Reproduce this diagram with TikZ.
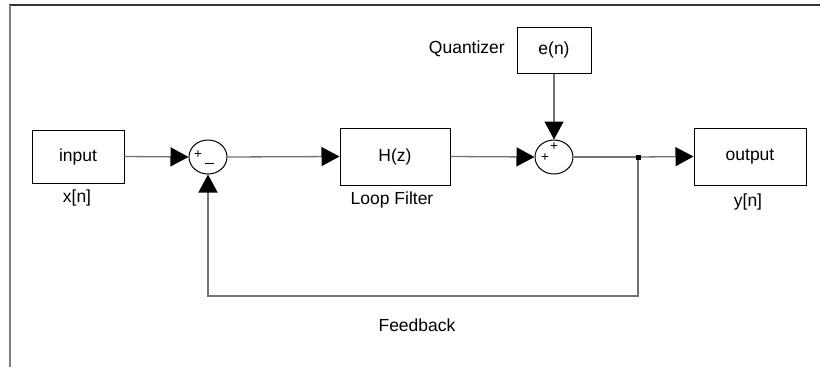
\documentclass[tikz,border=0pt]{standalone}
\usepackage{fontspec}
\setmainfont{Liberation Sans}
\usetikzlibrary{arrows.meta,shapes.geometric}
\begin{document}
\begin{tikzpicture}[x=1pt,y=-1pt,
  every node/.style={font=\fontsize{17.5}{20}\selectfont},
  blockbox/.style={draw=black,line width=1pt,inner sep=0pt},
  sumnode/.style={draw=black,line width=1pt,ellipse,minimum width=38pt,minimum height=34pt,inner sep=0pt},
  conn/.style={draw=black!55,line width=1.3pt,-{Triangle[length=18pt,width=19pt,color=black]}},
  plainline/.style={draw=black!55,line width=1.3pt},
  jdot/.style={fill=black,inner sep=0pt,minimum size=5pt,rectangle},
  lbl/.style={inner sep=0pt},
  sgn/.style={inner sep=0pt,font=\fontsize{13.5}{15}\selectfont}]
\useasboundingbox (0,0) rectangle (820,367);
\fill[white] (0,0) rectangle (820,367);
% frame (top and left edges)
\draw[black!80,line width=2pt] (9,5) -- (820,5);
\draw[black!50,line width=2pt] (10,5) -- (10,367);
% blocks
\node[blockbox,minimum width=92pt,minimum height=53pt] (input) at (78,156.5) {input};
\node[blockbox,minimum width=110pt,minimum height=57pt] (hz) at (395,156.5) {H(z)};
\node[blockbox,minimum width=112pt,minimum height=57pt] (output) at (750,156.5) {output};
\node[blockbox,minimum width=74pt,minimum height=46pt] (en) at (554,50) {e(n)};
\node[sumnode] (sum1) at (208,157) {};
\node[sumnode] (sum2) at (554,157) {};
% signs
\node[sgn] (s1p) at (198,155) {+};
\node[sgn] (s1m) at (209,163) {\rule{9pt}{1pt}};
\node[sgn] (s2p) at (545,158) {+};
\node[sgn] (s2t) at (554,147) {+};
% labels
\node[lbl] (xn) at (77,198) {x[n]};
\node[lbl] (lf) at (392,200) {Loop Filter};
\node[lbl] (yn) at (748,202) {y[n]};
\node[lbl,anchor=east] (qz) at (505,49) {Quantizer};
\node[lbl] (fbl) at (417,325) {Feedback};
% connectors
\coordinate (junc) at (638,157);
\coordinate (fb1) at (638,296);
\coordinate (fb2) at (208,296);
\draw[conn] (input.east) -- (sum1.west);
\draw[conn] (sum1.east) -- (hz.west);
\draw[conn] (hz.east) -- (sum2.west);
\draw[conn] (en.south) -- (sum2.north);
\draw[plainline] (sum2.east) -- (junc);
\draw[conn] (junc) -- (output.west);
\draw[conn] (junc) -- (fb1) -- (fb2) -- (sum1.south);
\node[jdot] (jd) at (junc) {};
\end{tikzpicture}
\end{document}
